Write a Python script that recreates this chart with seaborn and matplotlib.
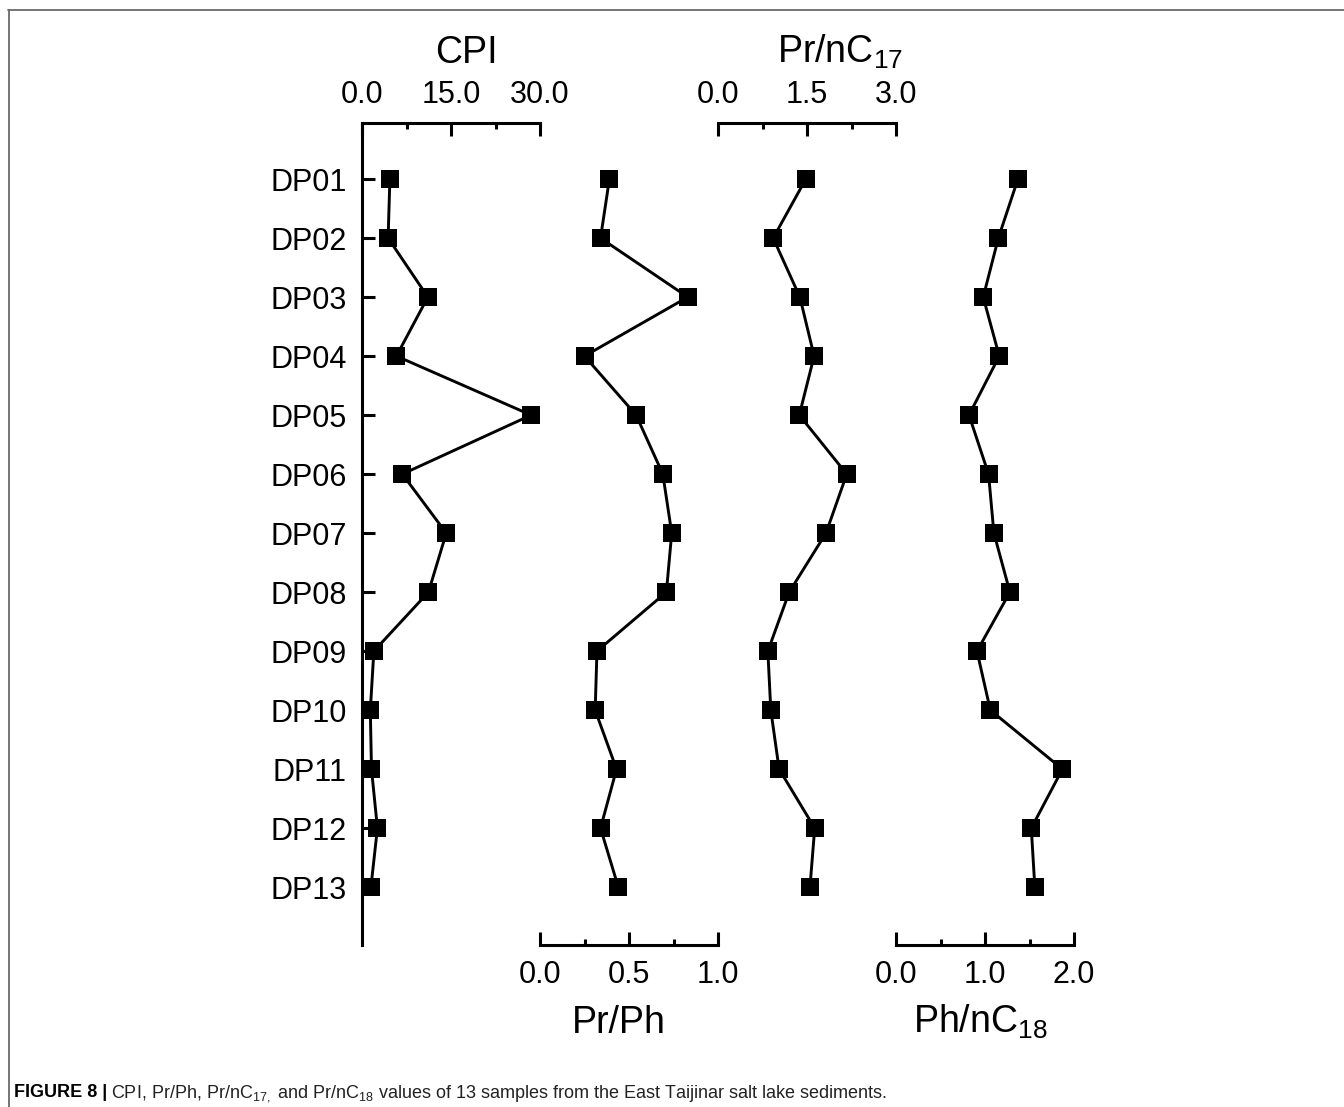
import pandas as pd
import matplotlib
matplotlib.use("Agg")
import matplotlib.pyplot as plt
import seaborn as sns
from matplotlib.ticker import MultipleLocator, FormatStrFormatter
from matplotlib.lines import Line2D

# dados
samples = [f"DP{i:02d}" for i in range(1, 14)]
positions = list(range(1, 14))
cpi = [4.7, 4.4, 11.1, 5.8, 28.5, 6.8, 14.2, 11.2, 2.0, 1.4, 1.6, 2.6, 1.5]
pr_ph = [0.39, 0.34, 0.83, 0.25, 0.54, 0.69, 0.74, 0.71, 0.32, 0.31, 0.43, 0.34, 0.44]
pr_nc17 = [1.48, 0.93, 1.38, 1.62, 1.37, 2.17, 1.82, 1.20, 0.84, 0.89, 1.03, 1.63, 1.55]
ph_nc18 = [1.37, 1.15, 0.98, 1.16, 0.82, 1.04, 1.10, 1.28, 0.91, 1.06, 1.87, 1.52, 1.56]

sns.set_theme(style="ticks")
plt.rcParams["font.family"] = ["Liberation Sans", "DejaVu Sans"]
plt.rcParams["mathtext.fontset"] = "custom"
plt.rcParams["mathtext.rm"] = "Liberation Sans"
plt.rcParams["mathtext.it"] = "Liberation Sans:italic"
plt.rcParams["mathtext.bf"] = "Liberation Sans:bold"
plt.rcParams["mathtext.default"] = "rm"
# texto preto como no original
for k in ["text.color", "axes.labelcolor", "xtick.color", "ytick.color",
          "axes.edgecolor"]:
    plt.rcParams[k] = "black"

W, H = 1344, 1107
fig = plt.figure(figsize=(W / 100, H / 100), dpi=100)

# painéis: titulo, valores, maximo, passo, lado do eixo
panels = [
    ("CPI", cpi, 30.0, 15.0, "top"),
    ("Pr/Ph", pr_ph, 1.0, 0.5, "bottom"),
    ("Pr/nC$_{17}$", pr_nc17, 3.0, 1.5, "top"),
    ("Ph/nC$_{18}$", ph_nc18, 2.0, 1.0, "bottom"),
]
left_px = [362, 540, 718, 896]
panel_w = 178
ax_bottom = 1 - 945 / H
ax_height = (945 - 123) / H
label_cx = [466, 619, 840, 980]
lw_eixo = 2.2

for i, (titulo, valores, xmax, passo, lado) in enumerate(panels):
    ax = fig.add_axes([left_px[i] / W, ax_bottom, panel_w / W, ax_height])
    ax.patch.set_alpha(0)
    df = pd.DataFrame({"pos": positions, "valor": valores})
    sns.lineplot(data=df, x="valor", y="pos", orient="y", ax=ax,
                 color="black", lw=2.1, marker="s", markersize=12.5,
                 markeredgewidth=0, markeredgecolor="black")
    ax.set_xlim(0, xmax)
    ax.set_ylim(13.98, 0.05)
    ax.set_xlabel("")
    ax.set_ylabel("")

    for s in ax.spines.values():
        s.set_visible(False)
    ax.spines[lado].set_visible(True)
    ax.spines[lado].set_linewidth(lw_eixo)

    ax.xaxis.set_ticks_position(lado)
    ax.xaxis.set_label_position(lado)
    ax.set_xticks([0, passo, xmax])
    ax.xaxis.set_minor_locator(MultipleLocator(passo / 2))
    ax.xaxis.set_major_formatter(FormatStrFormatter("%.1f"))
    pad_x = 9 if lado == "top" else 11
    ax.tick_params(axis="x", which="major", direction="in", length=9.5,
                   width=lw_eixo, labelsize=22, pad=pad_x, color="black")
    ax.tick_params(axis="x", which="minor", direction="in", length=4.5,
                   width=lw_eixo, color="black")

    if i == 0:
        ax.spines["left"].set_visible(True)
        ax.spines["left"].set_linewidth(lw_eixo)
        ax.set_yticks(positions)
        ax.set_yticklabels(samples)
        ax.tick_params(axis="y", direction="in", length=9.5, width=lw_eixo,
                       labelsize=22, pad=11, color="black")
    else:
        ax.set_yticks([])

    if lado == "top":
        fig.text(label_cx[i] / W, 1 - 63 / H, titulo, ha="center",
                 va="baseline", fontsize=27)
    else:
        fig.text(label_cx[i] / W, 1 - 1033 / H, titulo, ha="center",
                 va="baseline", fontsize=27)

# moldura cinza
fig.add_artist(Line2D([8 / W, 1], [1 - 10 / H, 1 - 10 / H],
                      transform=fig.transFigure, color="#6a6a6a", lw=1.3))
fig.add_artist(Line2D([9 / W, 9 / W], [0, 1 - 10 / H],
                      transform=fig.transFigure, color="#6a6a6a", lw=1.3))

# legenda da figura
y_leg = 1 - 1097 / H
t1 = fig.text(14 / W, y_leg, "FIGURE 8 |", fontsize=13, fontweight="bold",
              va="baseline")
renderer = fig.canvas.get_renderer()
bb = t1.get_window_extent(renderer=renderer)
fig.text((bb.x1 + 4) / W, y_leg,
         "CPI, Pr/Ph, Pr/nC$_{17,}$ and Pr/nC$_{18}$ values of 13 samples "
         "from the East Taijinar salt lake sediments.",
         fontsize=13, va="baseline", color="#222222")

fig.savefig("out.png", dpi=100)
plt.close()
